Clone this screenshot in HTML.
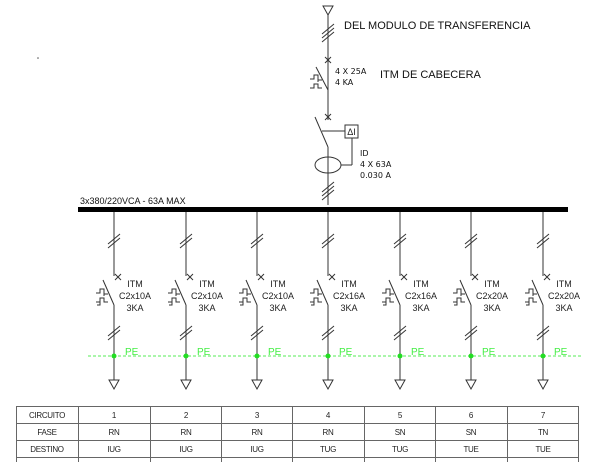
<!DOCTYPE html>
<html><head><style>body{margin:0;background:#fff}svg{display:block}</style></head><body>
<svg width="600" height="471" viewBox="0 0 600 471" xmlns="http://www.w3.org/2000/svg" font-family="Liberation Sans, sans-serif">
<defs>
<g id="br" stroke="#333" stroke-width="1" fill="none">
<line x1="0" y1="212" x2="0" y2="276"/>
<line x1="-6" y1="248" x2="6" y2="238"/><line x1="-6" y1="244" x2="6" y2="234"/>
<line x1="1" y1="274" x2="7" y2="280"/><line x1="1" y1="280" x2="7" y2="274"/>
<line x1="-11" y1="280" x2="0" y2="305"/>
<line x1="0" y1="305" x2="0" y2="380"/>
<path d="M-6,294 l-4,0 l0,-5 l-4,0 l0,4 l-4,0 M-10,292 l0,4 M-6,302 l-4,0 l0,-4 l-4,0 l0,4 l-4,0 M-14,302 l0,3 l-3,0"/>
<line x1="-6" y1="340" x2="6" y2="330"/><line x1="-6" y1="336" x2="6" y2="326"/>
<path d="M-5,380 L5,380 L0,389 Z"/>
<circle cx="0" cy="356" r="2.5" fill="#22dd22" stroke="none"/>
</g>
</defs>
<g stroke="#333" fill="none">
<line x1="328" y1="15" x2="328" y2="120"/>
<path d="M323,6 L333,6 L328,15 Z"/>
<line x1="322" y1="34" x2="334" y2="24"/><line x1="322" y1="38" x2="334" y2="28"/><line x1="322" y1="42" x2="334" y2="32"/>
<line x1="325" y1="57" x2="331" y2="63"/><line x1="325" y1="63" x2="331" y2="57"/>
<line x1="316" y1="67" x2="328" y2="90"/>
<path d="M322,80 l-4,0 l0,-5 l-4,0 l0,4 l-4,0 M318,78 l0,4 M322,88 l-4,0 l0,-4 l-4,0 l0,4 l-4,0"/>
<line x1="325" y1="114" x2="331" y2="120"/><line x1="325" y1="120" x2="331" y2="114"/>
<line x1="315" y1="117" x2="328" y2="147"/>
<line x1="328" y1="147" x2="328" y2="205"/>
<line x1="322" y1="131" x2="345" y2="131"/>
<rect x="345" y="125" width="13" height="13"/>
<line x1="352" y1="138" x2="352" y2="165"/><line x1="352" y1="165" x2="341" y2="165"/>
<ellipse cx="328" cy="165" rx="13" ry="8"/>
<line x1="322" y1="192" x2="334" y2="182"/><line x1="322" y1="196" x2="334" y2="186"/><line x1="322" y1="200" x2="334" y2="190"/>
</g>
<rect x="65" y="70" width="0" height="0"/>
<text x="351.5" y="135" font-size="9" fill="#222" text-anchor="middle">ΔI</text>
<rect x="78" y="207" width="490" height="5" fill="#000"/>
<line x1="88" y1="356" x2="582" y2="356" stroke="#55ee55" stroke-dasharray="3,2"/>
<use href="#br" x="114"/><use href="#br" x="186"/><use href="#br" x="257"/><use href="#br" x="328"/><use href="#br" x="400"/><use href="#br" x="471"/><use href="#br" x="543"/>
<g font-size="11" fill="#111">
<text x="344" y="29">DEL MODULO DE TRANSFERENCIA</text>
<text x="380" y="78">ITM DE CABECERA</text>
</g>
<g font-size="8" fill="#111" font-family="DejaVu Sans, sans-serif">
<text x="335" y="74">4 X 25A</text><text x="335" y="85">4 KA</text>
<text x="360" y="156">ID</text><text x="360" y="167">4 X 63A</text><text x="360" y="178">0.030 A</text>
</g>
<text x="80" y="204" font-size="9" fill="#111">3x380/220VCA - 63A MAX</text>
<circle cx="38" cy="58" r="0.8" fill="#555"/>
<g font-size="9" fill="#222" text-anchor="middle">
<text x="135" y="287">ITM</text><text x="135" y="299">C2x10A</text><text x="135" y="311">3KA</text>
<text x="207" y="287">ITM</text><text x="207" y="299">C2x10A</text><text x="207" y="311">3KA</text>
<text x="278" y="287">ITM</text><text x="278" y="299">C2x10A</text><text x="278" y="311">3KA</text>
<text x="349" y="287">ITM</text><text x="349" y="299">C2x16A</text><text x="349" y="311">3KA</text>
<text x="421" y="287">ITM</text><text x="421" y="299">C2x16A</text><text x="421" y="311">3KA</text>
<text x="492" y="287">ITM</text><text x="492" y="299">C2x20A</text><text x="492" y="311">3KA</text>
<text x="564" y="287">ITM</text><text x="564" y="299">C2x20A</text><text x="564" y="311">3KA</text>
</g>
<g font-size="10" fill="#44ee44">
<text x="125" y="355">PE</text><text x="197" y="355">PE</text><text x="268" y="355">PE</text><text x="339" y="355">PE</text><text x="411" y="355">PE</text><text x="482" y="355">PE</text><text x="554" y="355">PE</text>
</g>
<g stroke="#666" stroke-width="1">
<line x1="16" y1="406.5" x2="579" y2="406.5"/><line x1="16" y1="423.5" x2="579" y2="423.5"/><line x1="16" y1="440.5" x2="579" y2="440.5"/><line x1="16" y1="457.5" x2="579" y2="457.5"/>
<line x1="16.5" y1="406" x2="16.5" y2="462"/><line x1="78.5" y1="406" x2="78.5" y2="462"/><line x1="150.5" y1="406" x2="150.5" y2="462"/><line x1="221.5" y1="406" x2="221.5" y2="462"/><line x1="292.5" y1="406" x2="292.5" y2="462"/><line x1="364.5" y1="406" x2="364.5" y2="462"/><line x1="435.5" y1="406" x2="435.5" y2="462"/><line x1="507.5" y1="406" x2="507.5" y2="462"/><line x1="578.5" y1="406" x2="578.5" y2="462"/>
</g>
<g font-size="8" fill="#222" text-anchor="middle" letter-spacing="-0.3">
<text x="47" y="418">CIRCUITO</text><text x="47" y="435">FASE</text><text x="47" y="452">DESTINO</text>
<text x="114" y="418">1</text><text x="186" y="418">2</text><text x="257" y="418">3</text><text x="328" y="418">4</text><text x="400" y="418">5</text><text x="471" y="418">6</text><text x="543" y="418">7</text>
<text x="114" y="435">RN</text><text x="186" y="435">RN</text><text x="257" y="435">RN</text><text x="328" y="435">RN</text><text x="400" y="435">SN</text><text x="471" y="435">SN</text><text x="543" y="435">TN</text>
<text x="114" y="452">IUG</text><text x="186" y="452">IUG</text><text x="257" y="452">IUG</text><text x="328" y="452">TUG</text><text x="400" y="452">TUG</text><text x="471" y="452">TUE</text><text x="543" y="452">TUE</text>
</g>
</svg>
</body></html>
